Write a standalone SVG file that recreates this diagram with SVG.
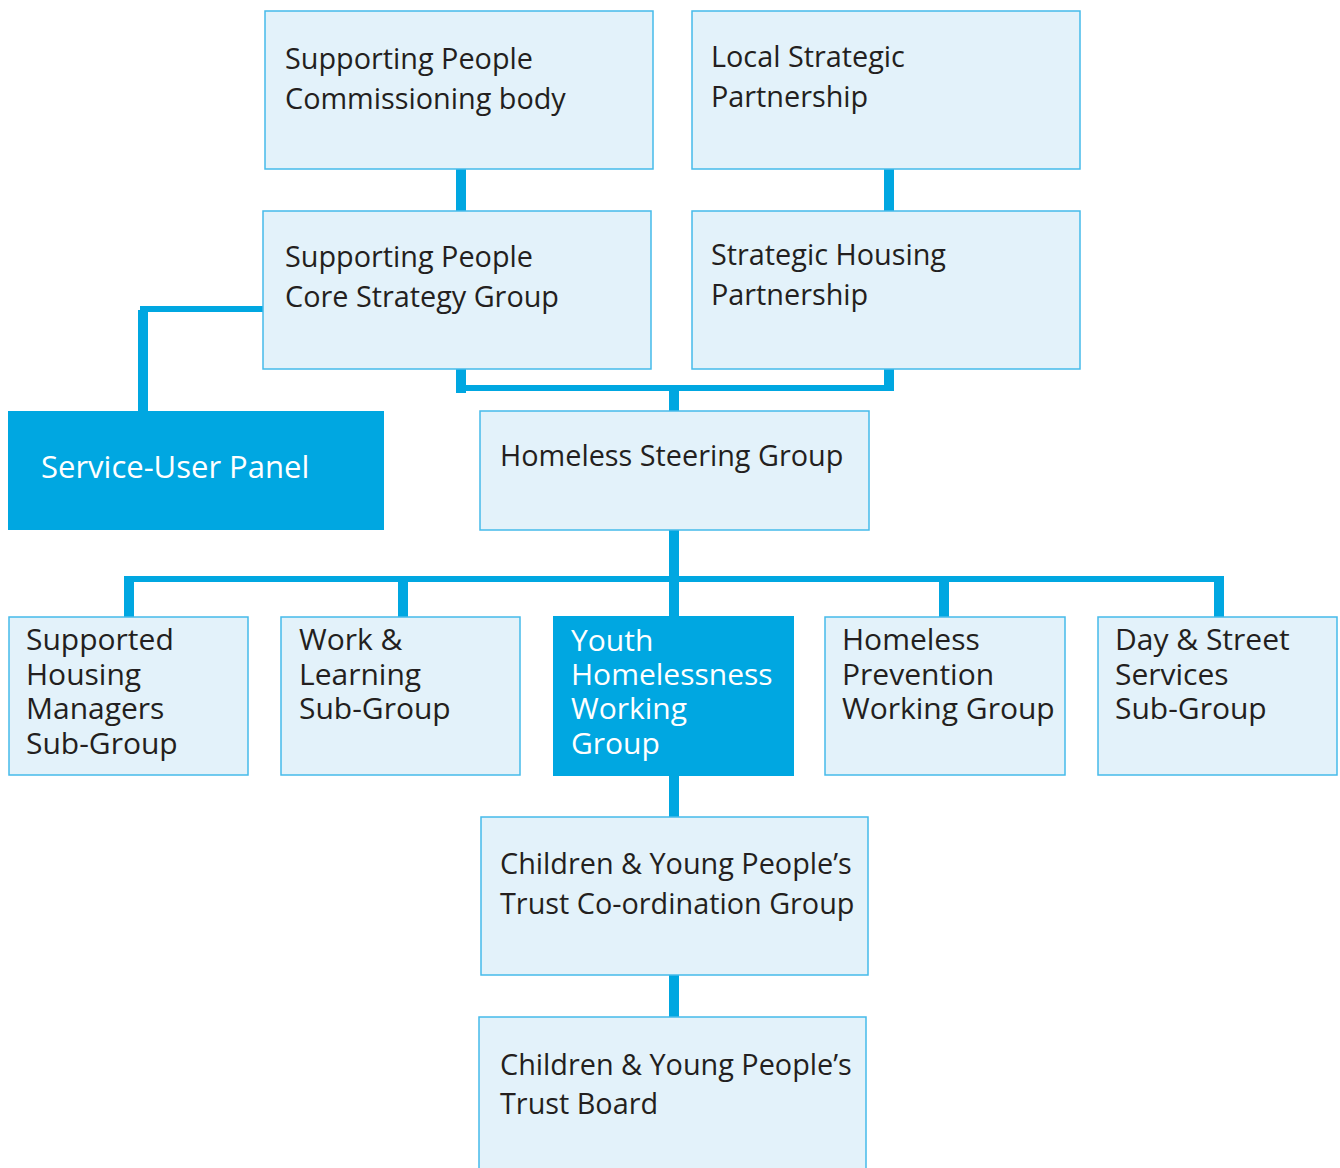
<svg xmlns="http://www.w3.org/2000/svg" width="1340" height="1168" viewBox="0 0 1340 1168">
  <style>
    .box { fill: #e3f2fa; stroke: #45bbea; stroke-width: 1.5; }
    .hot { fill: #00a7e1; }
    .t { font-family: "Open Sans", "Noto Sans", sans-serif; font-size: 28.8px; fill: #231f20; }
    .s { font-family: "Open Sans", "Noto Sans", sans-serif; font-size: 30px; fill: #231f20; }
    .w { font-family: "Open Sans", "Noto Sans", sans-serif; font-size: 30px; fill: #ffffff; }
    .wl { font-family: "Open Sans", "Noto Sans", sans-serif; font-size: 31px; fill: #ffffff; }
    .link { fill: #00a7e1; }
  </style>

  <!-- connectors -->
  <g id="connectors" class="link">
    <rect x="456" y="169" width="10" height="42"/>
    <rect x="884" y="169" width="10" height="42"/>
    <!-- bracket joining the two strategy groups -->
    <rect x="456" y="369" width="10" height="24"/>
    <rect x="884" y="369" width="10" height="22"/>
    <rect x="456" y="385" width="438" height="6"/>
    <rect x="669" y="385" width="10" height="26"/>
    <!-- branch to service-user panel -->
    <rect x="140" y="306" width="123" height="6"/>
    <rect x="138" y="310" width="10" height="101"/>
    <!-- steering group to sub-groups -->
    <rect x="669" y="530" width="10" height="87"/>
    <rect x="124" y="576" width="1100" height="6"/>
    <rect x="124" y="576" width="10" height="41"/>
    <rect x="398" y="576" width="10" height="41"/>
    <rect x="939" y="576" width="10" height="41"/>
    <rect x="1214" y="576" width="10" height="41"/>
    <!-- youth group down to trust -->
    <rect x="669" y="776" width="10" height="41"/>
    <rect x="669" y="975" width="10" height="42"/>
  </g>

  <g id="sp-commissioning">
    <rect class="box" x="265" y="11" width="388" height="158"/>
    <text class="t" x="285" y="69">Supporting People</text>
    <text class="t" x="285" y="109">Commissioning body</text>
  </g>

  <g id="local-strategic">
    <rect class="box" x="692" y="11" width="388" height="158"/>
    <text class="t" x="711" y="67">Local Strategic</text>
    <text class="t" x="711" y="107">Partnership</text>
  </g>

  <g id="sp-core-strategy">
    <rect class="box" x="263" y="211" width="388" height="158"/>
    <text class="t" x="285" y="267">Supporting People</text>
    <text class="t" x="285" y="307">Core Strategy Group</text>
  </g>

  <g id="strategic-housing">
    <rect class="box" x="692" y="211" width="388" height="158"/>
    <text class="t" x="711" y="265">Strategic Housing</text>
    <text class="t" x="711" y="305">Partnership</text>
  </g>

  <g id="service-user-panel">
    <rect class="hot" x="8" y="411" width="376" height="119"/>
    <text class="wl" x="41" y="478">Service-User Panel</text>
  </g>

  <g id="homeless-steering">
    <rect class="box" x="480" y="411" width="389" height="119"/>
    <text class="t" x="500" y="466" font-size="28.4">Homeless Steering Group</text>
  </g>

  <g id="supported-housing">
    <rect class="box" x="9" y="617" width="239" height="158"/>
    <text class="s" x="26" y="650">Supported</text>
    <text class="s" x="26" y="685">Housing</text>
    <text class="s" x="26" y="719">Managers</text>
    <text class="s" x="26" y="754">Sub-Group</text>
  </g>

  <g id="work-learning">
    <rect class="box" x="281" y="617" width="239" height="158"/>
    <text class="s" x="299" y="650">Work &amp;</text>
    <text class="s" x="299" y="685">Learning</text>
    <text class="s" x="299" y="719">Sub-Group</text>
  </g>

  <g id="youth-homelessness">
    <rect class="hot" x="553" y="616" width="241" height="160"/>
    <text class="w" x="571" y="651">Youth</text>
    <text class="w" x="571" y="685">Homelessness</text>
    <text class="w" x="571" y="719">Working</text>
    <text class="w" x="571" y="754">Group</text>
  </g>

  <g id="homeless-prevention">
    <rect class="box" x="825" y="617" width="240" height="158"/>
    <text class="s" x="842" y="650">Homeless</text>
    <text class="s" x="842" y="685">Prevention</text>
    <text class="s" x="842" y="719">Working Group</text>
  </g>

  <g id="day-street">
    <rect class="box" x="1098" y="617" width="239" height="158"/>
    <text class="s" x="1115" y="650">Day &amp; Street</text>
    <text class="s" x="1115" y="685">Services</text>
    <text class="s" x="1115" y="719">Sub-Group</text>
  </g>

  <g id="cyp-coordination">
    <rect class="box" x="481" y="817" width="387" height="158"/>
    <text class="t" x="500" y="874">Children &amp; Young People’s</text>
    <text class="t" x="500" y="914">Trust Co-ordination Group</text>
  </g>

  <g id="cyp-trust-board">
    <rect class="box" x="479" y="1017" width="387" height="160"/>
    <text class="t" x="500" y="1075">Children &amp; Young People’s</text>
    <text class="t" x="500" y="1114">Trust Board</text>
  </g>
</svg>
